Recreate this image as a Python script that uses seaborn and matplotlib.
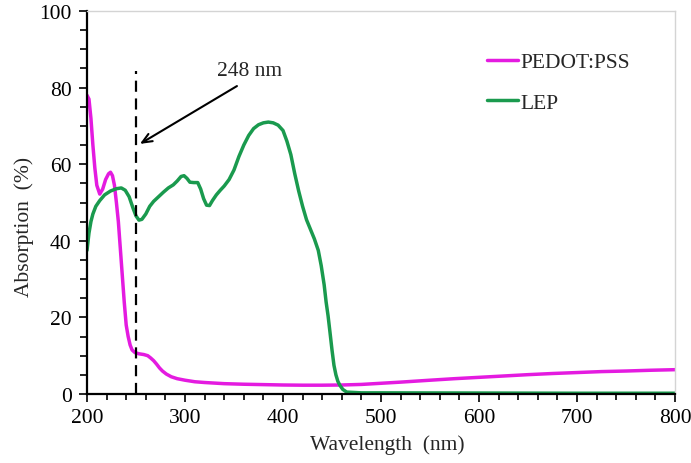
import numpy as np
import pandas as pd
import matplotlib
matplotlib.use("Agg")
import matplotlib.pyplot as plt
import seaborn as sns

# ---- data ----
pedot_wl = [200, 202, 204, 206, 208, 210, 213, 216, 219, 222, 224, 226, 228, 230, 232, 234,
            236, 238, 240, 242, 244, 246, 249, 253, 258, 262, 265, 268, 271, 274, 277, 281,
            286, 292, 300, 310, 320, 340, 360, 380, 400, 420, 440, 460, 480, 500, 520, 550,
            575, 600, 625, 650, 675, 700, 725, 750, 775, 800]
pedot_abs = [78, 77, 72, 65, 59, 54.5, 52.2, 53.5, 56, 57.5, 57.9, 57, 54.5, 50, 45, 38,
             31, 24, 18, 15, 12.8, 11.5, 10.8, 10.5, 10.3, 10, 9.4, 8.7, 7.8, 6.8, 6.0, 5.2,
             4.5, 4.0, 3.6, 3.2, 3.0, 2.7, 2.55, 2.45, 2.35, 2.3, 2.3, 2.35, 2.5, 2.8, 3.1, 3.6,
             4.0, 4.35, 4.7, 5.05, 5.35, 5.6, 5.85, 6.0, 6.2, 6.35]

lep_wl = [200, 202, 204, 206, 209, 213, 218, 224, 230, 235, 239, 243, 247, 250, 253, 256,
          260, 264, 268, 273, 278, 283, 288, 292, 296, 299, 302, 305, 309, 313, 316, 319,
          322, 325, 328, 332, 336, 340, 345, 350, 355, 360, 365, 370, 375, 380, 385, 390,
          395, 400, 404, 408, 412, 416, 420, 424, 428, 432, 436, 439, 442, 444, 446, 448,
          450, 452, 454, 456, 458, 461, 465, 480, 500, 600, 700, 800]
lep_abs = [37.5, 42, 45, 47, 49, 50.5, 52, 53, 53.6, 53.8, 53.2, 51.5, 48.5, 46.5, 45.4, 45.6,
           47, 49, 50.3, 51.5, 52.7, 53.8, 54.6, 55.6, 56.8, 57, 56.3, 55.3, 55.2, 55.2, 53.5, 51,
           49.3, 49.2, 50.5, 52, 53.2, 54.3, 56, 58.5, 62, 65, 67.5, 69.3, 70.3, 70.8, 71, 70.8,
           70.2, 68.8, 66, 62.5, 57.5, 53, 49, 45.5, 43, 40.5, 37.5, 33.5, 28.5, 24, 20.4, 16,
           11.5, 7.5, 5, 3.3, 2.3, 1.2, 0.5, 0.3, 0.3, 0.25, 0.2, 0.2]

series_names = ["PEDOT:PSS", "LEP"]
series_colors = ["#E41BE0", "#1A9A4E"]
marker_wl = 250
marker_label = "248 nm"

df = pd.concat([
    pd.DataFrame({"Wavelength": pedot_wl, "Absorption": pedot_abs, "Sample": series_names[0]}),
    pd.DataFrame({"Wavelength": lep_wl, "Absorption": lep_abs, "Sample": series_names[1]}),
])

sns.set_style("ticks")
plt.rcParams["font.family"] = ["Liberation Serif", "DejaVu Serif"]

FS = 15.5

fig = plt.figure(figsize=(6.91, 4.64), dpi=100)
ax = fig.add_axes([87 / 691, 1 - 395 / 464, (675 - 87) / 691, (395 - 12) / 464])

sns.lineplot(data=df, x="Wavelength", y="Absorption", hue="Sample",
             palette=dict(zip(series_names, series_colors)), linewidth=2.5,
             sort=False, ax=ax, legend=True)

ax.set_xlim(200, 800)
ax.set_ylim(0, 100)
ax.set_xticks(np.arange(200, 801, 100))
ax.set_xticks(np.arange(200, 801, 20), minor=True)
ax.set_yticks(np.arange(0, 101, 20))
ax.set_yticks(np.arange(0, 101, 5), minor=True)
ax.tick_params(axis="both", which="both", direction="out", color="black", width=1.2,
               labelsize=FS, colors="black")
ax.tick_params(axis="y", which="major", length=6, pad=5)
ax.tick_params(axis="y", which="minor", length=5)
ax.tick_params(axis="x", which="major", length=6, pad=4)
ax.tick_params(axis="x", which="minor", length=4)

ax.set_xlabel("Wavelength  (nm)", fontsize=FS)
ax.set_ylabel("Absorption  (%)", fontsize=FS)
ax.xaxis.set_label_coords(0.51, -0.105)
ax.yaxis.set_label_coords(-0.09, 0.44)

for s in ["left", "bottom"]:
    ax.spines[s].set_color("black")
    ax.spines[s].set_linewidth(1.6)
for s in ["top", "right"]:
    ax.spines[s].set_color("#d4d4d4")
    ax.spines[s].set_linewidth(1.0)

# dashed marker line
ax.plot([marker_wl, marker_wl], [0, 84.3], color="black", lw=1.6, ls=(0, (5, 3)))
ax.annotate("", xy=(254, 65.3), xytext=(353, 80.4),
            arrowprops=dict(arrowstyle="->,head_length=0.7,head_width=0.3",
                            color="black", lw=1.5, shrinkA=0, shrinkB=0))
ax.text(366, 84.5, marker_label, ha="center", va="center", fontsize=FS)

leg = ax.legend(loc="upper left", bbox_to_anchor=(487 / 691, 1 - 53 / 464),
                bbox_transform=fig.transFigure, frameon=False, fontsize=FS,
                handlelength=1.45, handletextpad=0.12, labelspacing=0.95,
                borderpad=0, borderaxespad=0)
for h in leg.get_lines():
    h.set_linewidth(2.5)

fig.savefig("out.png", dpi=100)
